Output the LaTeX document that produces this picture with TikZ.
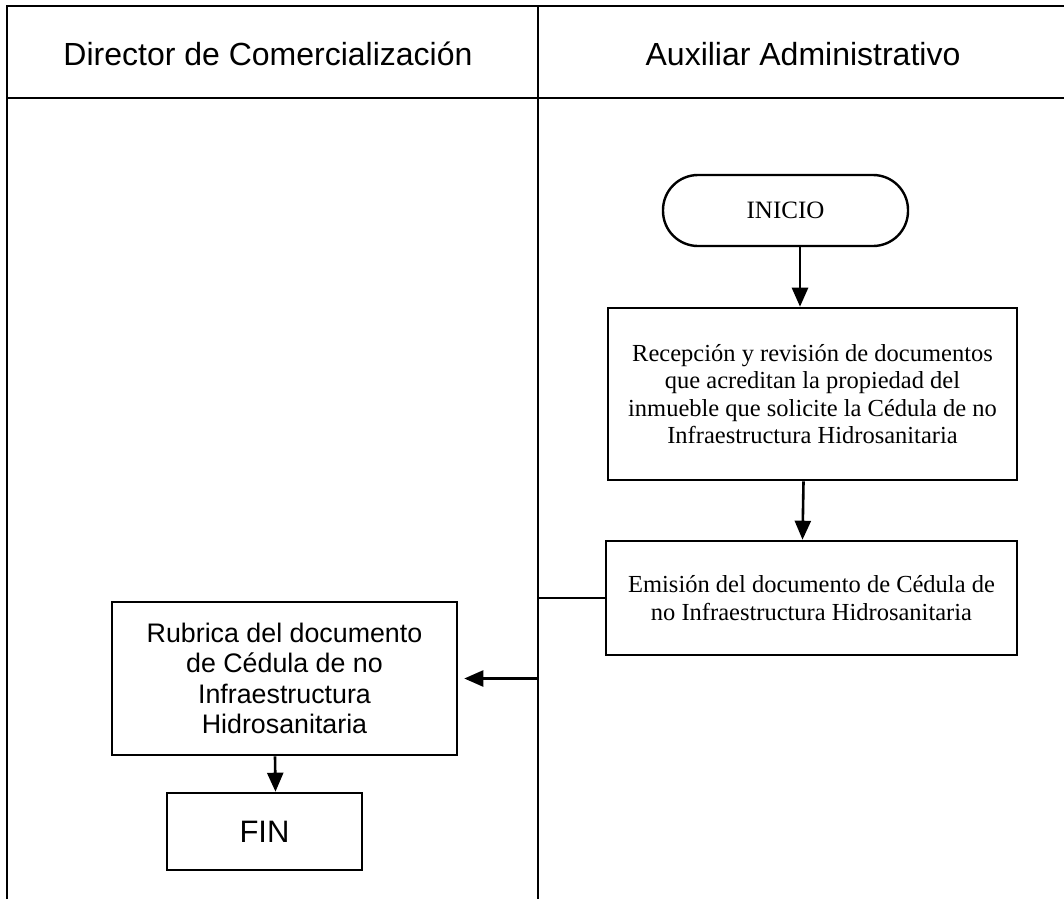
\documentclass[tikz,border=0pt]{standalone}
\usepackage{fontspec}
\setmainfont{Liberation Serif}
\newfontfamily\arial{Liberation Sans}
\usetikzlibrary{arrows.meta,calc}
\begin{document}
\begin{tikzpicture}[x=1pt,y=-1pt,
  frame/.style={line width=2.2pt},
  procbox/.style={draw,line width=2.6pt,inner sep=0pt,align=center},
  serifbox/.style={procbox,font=\fontsize{24.5}{27.5}\selectfont},
  sansbox/.style={procbox,font=\arial\fontsize{26.8}{30.5}\selectfont},
  term/.style={draw,line width=2.4pt,rounded corners=35pt,inner sep=0pt,align=center,font=\fontsize{25}{28}\selectfont},
  arr/.style={line width=2.6pt,-{Triangle[length=19pt,width=16pt]}},
  head/.style={font=\arial\fontsize{32}{36}\selectfont,anchor=center}]
\useasboundingbox (0,0) rectangle (1064,899);
% lanes
\draw[frame] (7,899) -- (7,6) -- (1064,6);
\draw[frame] (7,98) -- (1064,98);
\draw[frame] (538,6) -- (538,899);
\node[head] (h1) at (268,54) {Director de Comercialización};
\node[head] (h2) at (803,54) {Auxiliar Administrativo};
% nodes
\node[term,minimum width=245pt,minimum height=71pt] (ini) at (785.5,210.5) {INICIO};
\node[serifbox,minimum width=409pt,minimum height=172pt] (b1) at (812.5,394) {Recepción y revisión de documentos\\que acreditan la propiedad del\\inmueble que solicite la Cédula de no\\Infraestructura Hidrosanitaria};
\node[serifbox,minimum width=411pt,minimum height=114pt] (b2) at (811.5,598) {Emisión del documento de Cédula de\\no Infraestructura Hidrosanitaria};
\node[sansbox,minimum width=345pt,minimum height=153pt] (b3) at (284.5,678.5) {Rubrica del documento\\de Cédula de no\\Infraestructura\\Hidrosanitaria};
\node[procbox,font=\arial\fontsize{31}{34}\selectfont,minimum width=195pt,minimum height=77pt] (fin) at (264.5,831.5) {FIN};
% connectors
\draw[arr] ([xshift=14.5pt]ini.south) -- ([xshift=-12.5pt]b1.north);
\draw[arr] ([xshift=-9pt]b1.south) -- ([xshift=-9pt]b2.north);
\coordinate (bend) at (538,598);
\draw[arr] (b2.west) -- (bend) |- ([xshift=6pt]b3.east);
\draw[arr] ([xshift=-9.5pt]b3.south) -- ([xshift=11pt]fin.north);
\end{tikzpicture}
\end{document}
